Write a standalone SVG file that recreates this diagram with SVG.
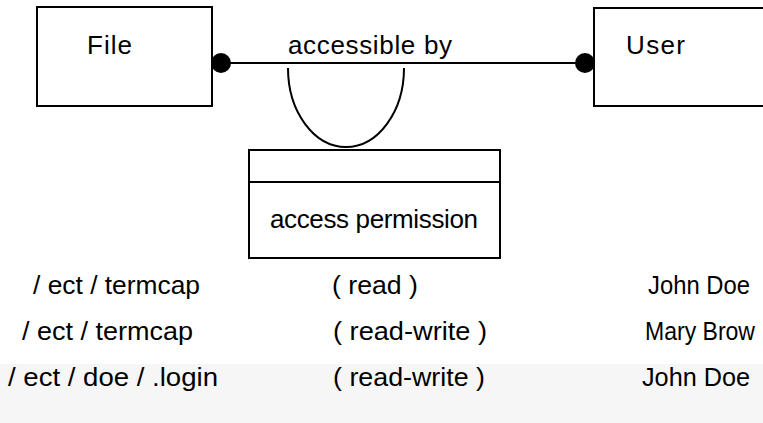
<svg xmlns="http://www.w3.org/2000/svg" width="763" height="423" viewBox="0 0 763 423">
<style>
  .box { fill: none; stroke: #000; stroke-width: 2; }
  .ln { fill: none; stroke: #000; stroke-width: 2; }
  .dot { fill: #000; }
  text { font-family: "Liberation Sans", Arial, sans-serif; fill: #000; }
  .lbl { font-size: 26px; }
  .row { font-size: 26px; }
</style>
<rect x="0" y="0" width="763" height="423" fill="#ffffff"/>
<rect x="0" y="364" width="763" height="59" fill="#f6f6f6"/>
<g id="file">
  <rect class="box" x="37" y="7" width="175" height="99"/>
  <text class="lbl" x="87" y="54" textLength="45" lengthAdjust="spacing">File</text>
</g>
<g id="user">
  <rect class="box" x="594" y="8" width="200" height="98"/>
  <text class="lbl" x="626" y="54" textLength="59" lengthAdjust="spacing">User</text>
</g>
<g id="access-permission">
  <rect class="box" x="249" y="150" width="251" height="108"/>
  <line class="ln" x1="249" y1="182" x2="500" y2="182"/>
  <text class="lbl" x="270" y="228" textLength="208" lengthAdjust="spacing">access permission</text>
</g>
<g id="connectors">
  <line class="ln" x1="221" y1="63" x2="585" y2="63"/>
  <circle class="dot" cx="221" cy="63" r="10"/>
  <circle class="dot" cx="585" cy="63" r="10"/>
  <path class="ln" d="M288,68 A58,79 0 0 0 404,68"/>
  <text class="lbl" x="288" y="54" textLength="164" lengthAdjust="spacing">accessible by</text>
</g>
<g id="rows">
  <text class="row" x="33" y="294" textLength="167" lengthAdjust="spacingAndGlyphs">/ ect / termcap</text>
  <text class="row" x="332" y="294" textLength="86" lengthAdjust="spacingAndGlyphs">( read )</text>
  <text class="row" x="648" y="294" textLength="102" lengthAdjust="spacingAndGlyphs">John Doe</text>
  <text class="row" x="22" y="340" textLength="171" lengthAdjust="spacingAndGlyphs">/ ect / termcap</text>
  <text class="row" x="333" y="340" textLength="154" lengthAdjust="spacingAndGlyphs">( read-write )</text>
  <text class="row" x="645" y="340" textLength="110" lengthAdjust="spacingAndGlyphs">Mary Brow</text>
  <text class="row" x="8" y="386" textLength="210" lengthAdjust="spacingAndGlyphs">/ ect / doe / .login</text>
  <text class="row" x="333" y="386" textLength="152" lengthAdjust="spacingAndGlyphs">( read-write )</text>
  <text class="row" x="642" y="386" textLength="108" lengthAdjust="spacingAndGlyphs">John Doe</text>
</g>
</svg>
